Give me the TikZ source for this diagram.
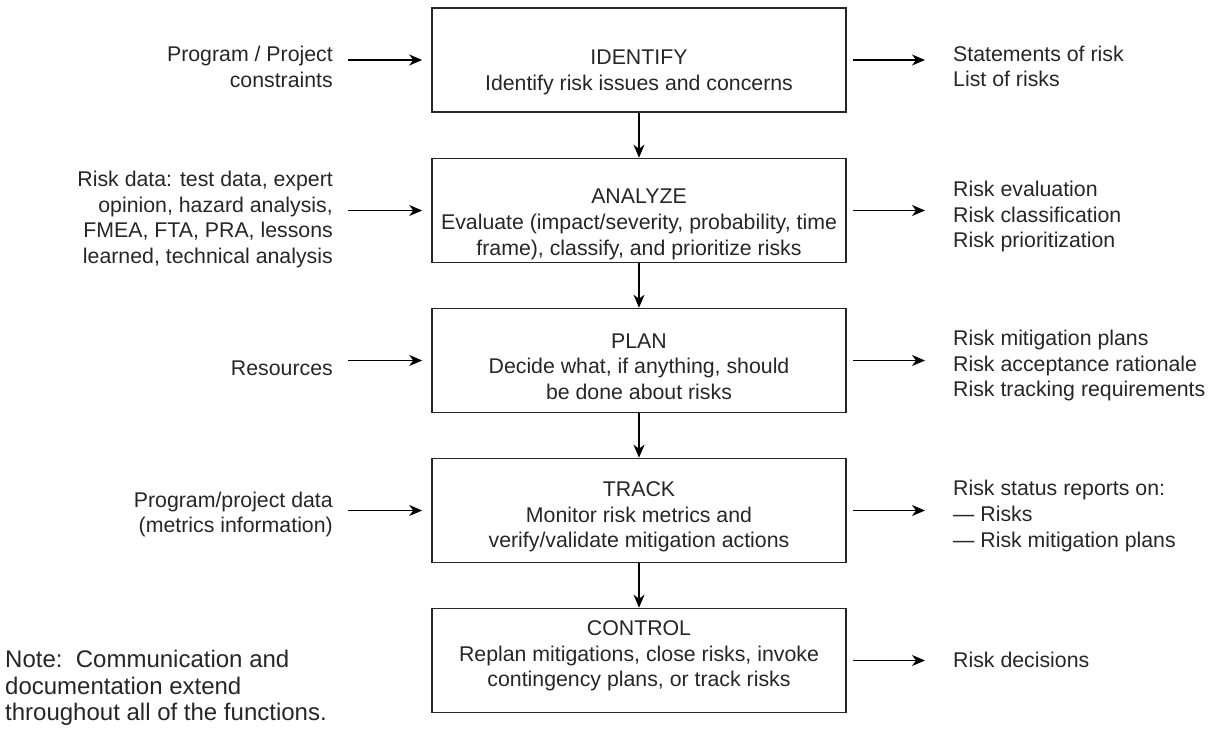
\documentclass[tikz,border=0pt]{standalone}
\usepackage{fontspec}
\setmainfont{Liberation Sans}
\usetikzlibrary{arrows.meta}
\begin{document}
\begin{tikzpicture}[x=1pt,y=-1pt,
  box/.style={draw=black!85, line width=1.6pt, minimum width=414pt, minimum height=104pt, inner sep=0pt},
  txt/.style={inner sep=0pt, text=black!85, font=\fontsize{21.3}{25.7}\selectfont},
  lefttxt/.style={txt, align=right, anchor=east},
  righttxt/.style={txt, align=left, anchor=west},
  boxtxt/.style={txt, align=center},
  arr/.style={line width=1.5pt, draw=black, -{Stealth[length=13pt,width=11pt,inset=4pt]}}]
\useasboundingbox (0,0) rectangle (1215,729);

% boxes
\node[box] (id) at (639,60) {};
\node[box] (an) at (639,210.5) {};
\node[box] (pl) at (639,360.5) {};
\node[box] (tr) at (639,510.5) {};
\node[box] (co) at (639,660.5) {};

% box texts
\node[boxtxt] (idt) at (639,72.5) {IDENTIFY\\Identify risk issues and concerns};
\node[boxtxt] (ant) at (639,224.5) {ANALYZE\\Evaluate (impact/severity, probability, time\\frame), classify, and prioritize risks};
\node[boxtxt] (plt) at (639,366.5) {PLAN\\Decide what, if anything, should\\be done about risks};
\node[boxtxt] (trt) at (639,517) {TRACK\\Monitor risk metrics and\\verify/validate mitigation actions};
\node[boxtxt] (cot) at (639,656) {CONTROL\\Replan mitigations, close risks, invoke\\contingency plans, or track risks};

% left inputs
\node[lefttxt] (in1) at (333,67) {Program / Project\\constraints};
\node[lefttxt] (in2) at (333,219.5) {Risk data: test data, expert\\opinion, hazard analysis,\\FMEA, FTA, PRA, lessons\\learned, technical analysis};
\node[lefttxt] (in3) at (333,368) {Resources};
\node[lefttxt] (in4) at (333,514.5) {Program/project data\\(metrics information)};

% right outputs
\node[righttxt] (out1) at (953,66.5) {Statements of risk\\List of risks};
\node[righttxt] (out2) at (953,216.5) {Risk evaluation\\Risk classification\\Risk prioritization};
\node[righttxt] (out3) at (953,365.5) {Risk mitigation plans\\Risk acceptance rationale\\Risk tracking requirements};
\node[righttxt] (out4) at (953,516) {Risk status reports on:\\\textemdash\ Risks\\\textemdash\ Risk mitigation plans};
\node[righttxt] (out5) at (953,660) {Risk decisions};

% note
\node[txt, align=left, anchor=west, font=\fontsize{24}{26.5}\selectfont] (note) at (5,688)
  {Note:\ \ Communication and\\documentation extend\\throughout all of the functions.};

% vertical flow
\draw[arr] (id) -- (an);
\draw[arr] (an) -- (pl);
\draw[arr] (pl) -- (tr);
\draw[arr] (tr) -- (co);

% inputs
\draw[arr, shorten <=15pt, shorten >=9pt] (in1.east |- id) -- (id.west);
\draw[arr, shorten <=15pt, shorten >=9pt] (in2.east |- an) -- (an.west);
\draw[arr, shorten <=15pt, shorten >=9pt] (in3.east |- pl) -- (pl.west);
\draw[arr, shorten <=15pt, shorten >=9pt] (in4.east |- tr) -- (tr.west);

% outputs
\draw[arr, shorten <=6pt, shorten >=28pt] (id.east) -- (out1.west |- id);
\draw[arr, shorten <=6pt, shorten >=28pt] (an.east) -- (out2.west |- an);
\draw[arr, shorten <=6pt, shorten >=28pt] (pl.east) -- (out3.west |- pl);
\draw[arr, shorten <=6pt, shorten >=28pt] (tr.east) -- (out4.west |- tr);
\draw[arr, shorten <=6pt, shorten >=28pt] (co.east) -- (out5.west |- co);
\end{tikzpicture}
\end{document}
